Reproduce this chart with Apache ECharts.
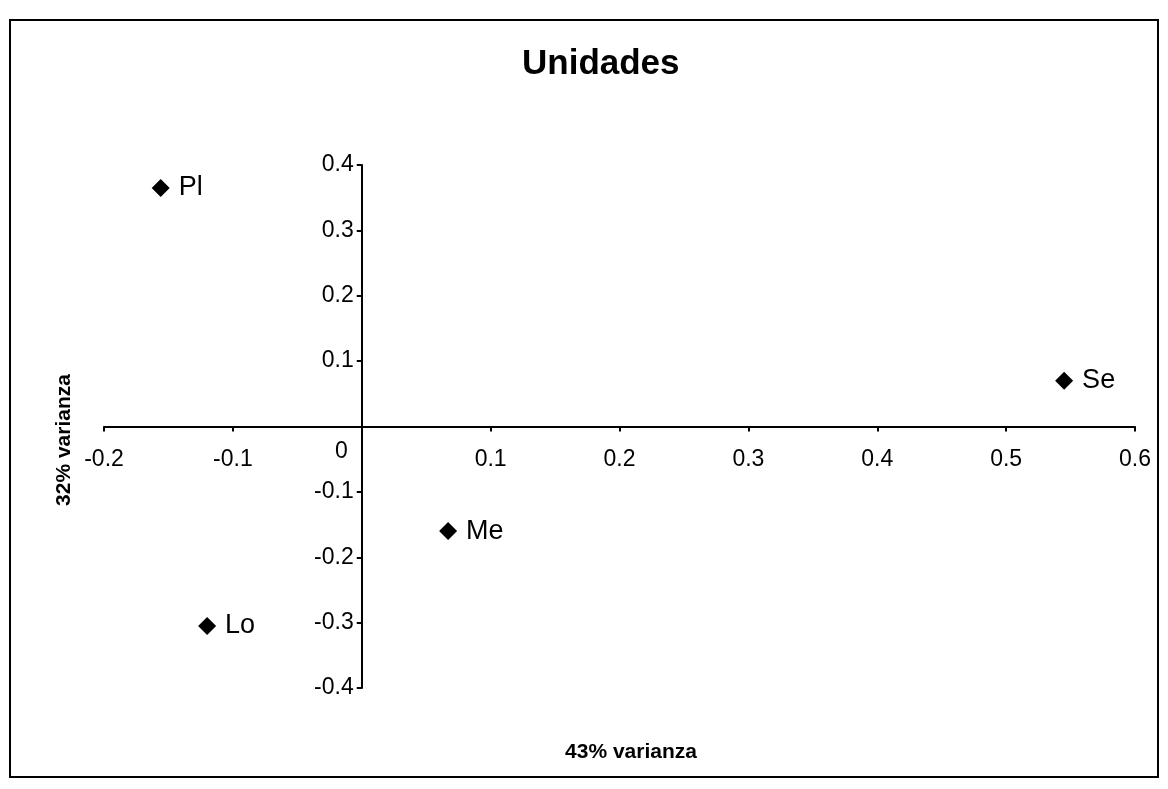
<!DOCTYPE html>
<html>
<head>
<meta charset="utf-8">
<script src="https://cdn.jsdelivr.net/npm/echarts@6/dist/echarts.min.js"></script>
<style>
html,body{margin:0;padding:0;background:#fff;}
#c{width:1168px;height:789px;}
</style>
</head>
<body>
<div id="c"></div>
<script>
// Data
const titleText = 'Unidades';
const xAxisTitle = '43% varianza';
const yAxisTitle = '32% varianza';
const pointNames = ['Pl', 'Se', 'Me', 'Lo'];
const xValues = [-0.156, 0.545, 0.067, -0.12];
const yValues = [0.365, 0.07, -0.16, -0.305];
const xTicks = [-0.2, -0.1, 0, 0.1, 0.2, 0.3, 0.4, 0.5, 0.6];
const yTicks = [-0.4, -0.3, -0.2, -0.1, 0, 0.1, 0.2, 0.3, 0.4];

const FONT = '"Liberation Sans", Arial, sans-serif';
const W = 1168, H = 789;
const GRID = { left: 104, right: 33, top: 165, bottom: 101 };
const chart = echarts.init(document.getElementById('c'));

const points = pointNames.map((n, i) => ({ name: n, value: [xValues[i], yValues[i]] }));
const fmt = v => (Math.round(v * 10) / 10).toString();

// place the axes so they cross at (0,0), via the library's own offset option
const xMin = xTicks[0], xMax = xTicks[xTicks.length - 1];
const yMin = yTicks[0], yMax = yTicks[yTicks.length - 1];
const plotW = W - GRID.left - GRID.right;
const plotH = H - GRID.top - GRID.bottom;
const yAxisOffset = -((0 - xMin) / (xMax - xMin)) * plotW;
const xAxisOffset = -((0 - yMin) / (yMax - yMin)) * plotH;

chart.setOption({
  backgroundColor: '#fff',
  animation: false,
  title: {
    text: titleText,
    left: 517,
    top: 42,
    textStyle: { fontFamily: FONT, fontWeight: 'bold', fontSize: 35, color: '#000' }
  },
  grid: Object.assign({ containLabel: false }, GRID),
  xAxis: {
    type: 'value',
    min: xMin,
    max: xMax,
    interval: 0.1,
    position: 'bottom',
    offset: xAxisOffset,
    axisLine: { onZero: false, lineStyle: { color: '#000', width: 2 } },
    axisTick: { show: true, inside: false, length: 5, lineStyle: { color: '#000', width: 2 } },
    splitLine: { show: false },
    axisLabel: {
      color: '#000', fontFamily: FONT, fontSize: 23, margin: 22,
      showMinLabel: true, showMaxLabel: true,
      formatter: v => (Math.abs(v) < 1e-9 ? '' : fmt(v))
    }
  },
  yAxis: {
    type: 'value',
    min: yMin,
    max: yMax,
    interval: 0.1,
    position: 'left',
    offset: yAxisOffset,
    axisLine: { onZero: false, lineStyle: { color: '#000', width: 2 } },
    axisTick: { show: true, inside: false, length: 5, lineStyle: { color: '#000', width: 2 } },
    splitLine: { show: false },
    axisLabel: {
      color: '#000', fontFamily: FONT, fontSize: 23, margin: 8,
      showMinLabel: true, showMaxLabel: true,
      formatter: v => (Math.abs(v) < 1e-9 ? '{z|0}' : fmt(v)),
      rich: { z: { color: '#000', fontFamily: FONT, fontSize: 23, padding: [50, 6, 0, 0] } }
    }
  },
  graphic: [
    {
      type: 'rect', silent: true, z: -1,
      shape: { x: 10, y: 20, width: 1148, height: 757 },
      style: { fill: 'none', stroke: '#000', lineWidth: 2 }
    },
    {
      type: 'text', x: 631, y: 752,
      style: { text: xAxisTitle, font: 'bold 21px ' + FONT, fill: '#000', align: 'center', verticalAlign: 'middle' }
    },
    {
      type: 'text', x: 64, y: 440, rotation: Math.PI / 2,
      style: { text: yAxisTitle, font: 'bold 21px ' + FONT, fill: '#000', align: 'center', verticalAlign: 'middle' }
    }
  ],
  series: [{
    type: 'scatter',
    data: points,
    symbol: 'diamond',
    symbolSize: 18,
    itemStyle: { color: '#000', opacity: 1 },
    label: {
      show: true, position: 'right', distance: 9,
      formatter: p => p.name,
      color: '#000', fontFamily: FONT, fontSize: 27
    }
  }]
});
</script>
</body>
</html>
